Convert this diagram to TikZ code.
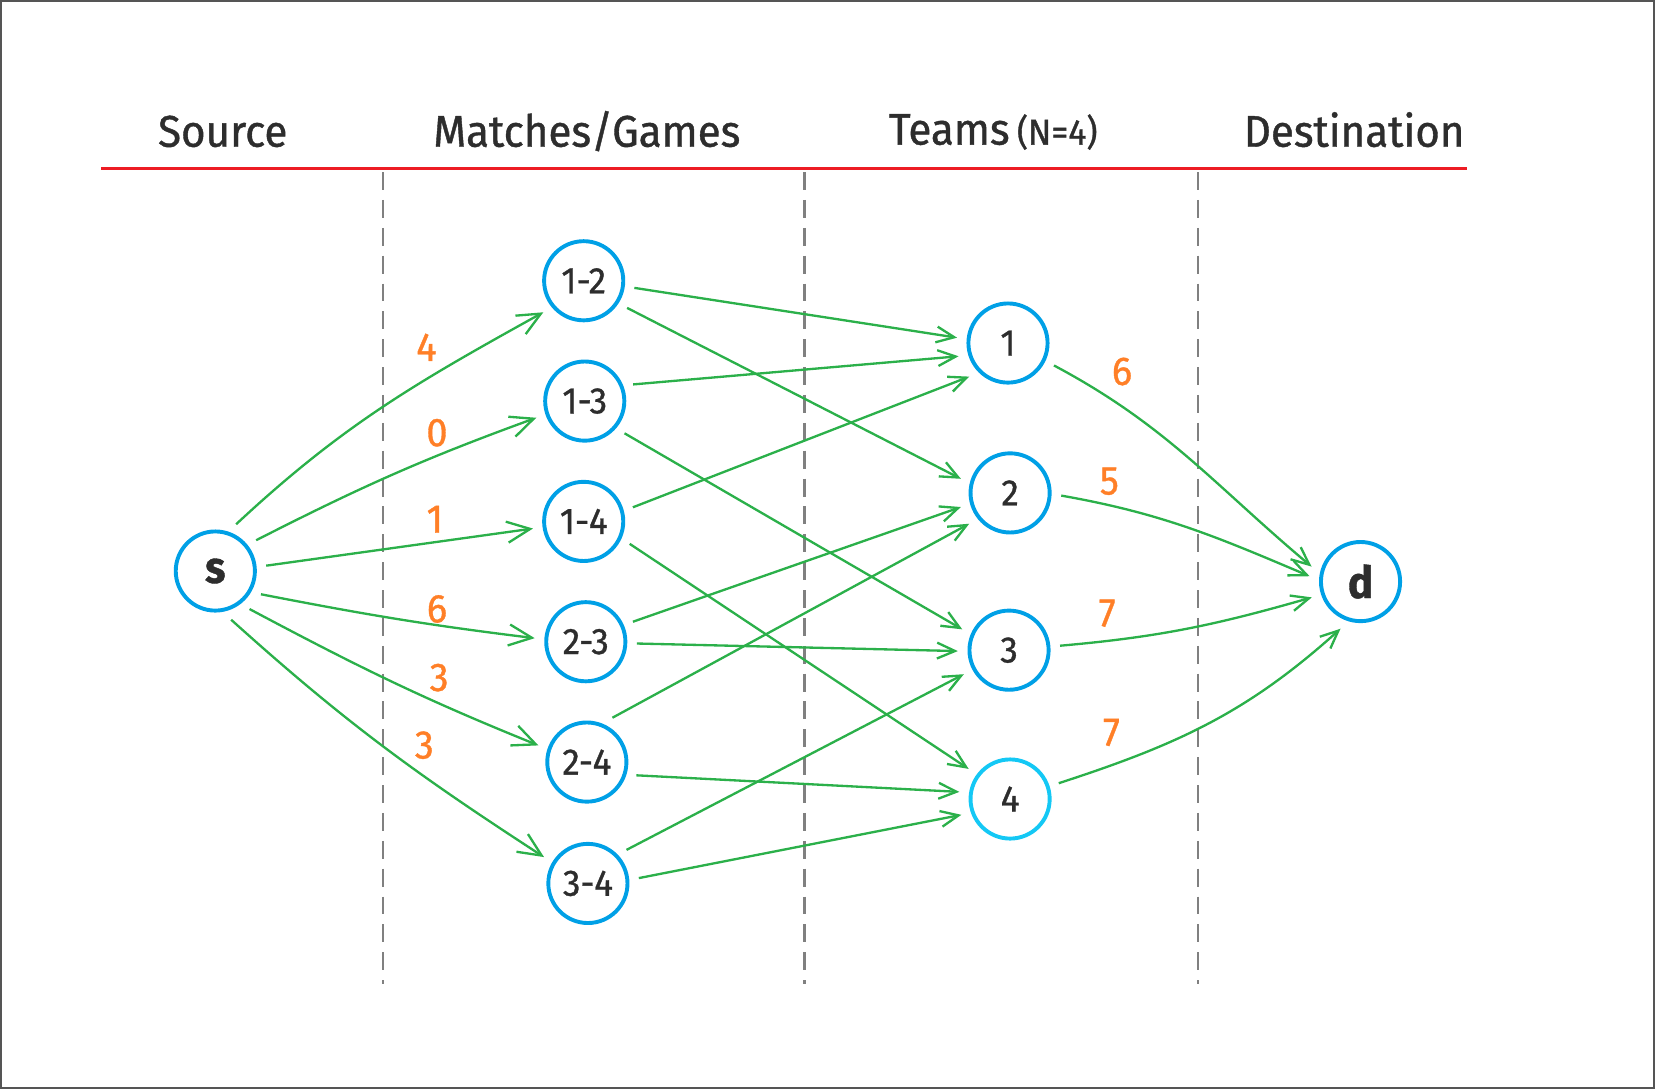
\documentclass[tikz,border=0pt]{standalone}
\usepackage{fontspec}
\setmainfont{Fira Sans}[FakeBold=0.9, FakeStretch=0.95]
\usetikzlibrary{arrows.meta}
\definecolor{nodeblue}{RGB}{0,160,230}
\definecolor{nodecyan}{RGB}{20,200,245}
\definecolor{edgegreen}{RGB}{43,176,74}
\definecolor{lblorange}{RGB}{255,127,39}
\definecolor{hdrred}{RGB}{237,28,36}
\definecolor{txt}{RGB}{45,45,45}
\definecolor{dashgray}{RGB}{128,128,128}
\definecolor{framegray}{RGB}{85,85,85}
\begin{document}
\begin{tikzpicture}[x=0.5pt,y=0.5pt,
  vtx/.style={circle, draw=nodeblue, line width=1.85pt, minimum size=37.5pt,
    inner sep=0pt, outer sep=5.5pt, text=txt, font=\fontsize{17.5}{20}\selectfont},
  endvtx/.style={vtx, font=\fontsize{21}{24}\selectfont\bfseries},
  hdr/.style={text=txt, font=\fontsize{21}{24}\selectfont, inner sep=0pt},
  lbl/.style={text=lblorange, font=\fontsize{19}{22}\selectfont, inner sep=0pt},
  divider/.style={draw=dashgray, line width=1.2pt, dash pattern=on 8.5pt off 4.7pt},
  edgeA/.style={draw=edgegreen, line width=1.1pt, -{Straight Barb[length=11pt,width=10pt]}},
  edgeB/.style={draw=edgegreen, line width=1.1pt, -{Straight Barb[length=8.5pt,width=7.5pt]}}
]
\useasboundingbox (0,0) rectangle (1568,-1032);
\draw[framegray, line width=1pt] (1,-1) rectangle (1567,-1031);

% headers
\node[hdr, anchor=base] (hsrc) at (211,-139) {Source};
\node[hdr, anchor=base] (hmatch) at (556,-139) {Matches/Games};
\node[hdr, anchor=base] (hteam) at (941,-137) {Teams\,{\fontsize{17}{20}\selectfont(N=4)}};
\node[hdr, anchor=base] (hdest) at (1283,-139) {Destination};
\coordinate (rl) at (96,-160);
\coordinate (rr) at (1390,-160);
\draw[hdrred, line width=1.5pt] (rl) -- (rr);

% dividers
\coordinate (d1t) at (363,-163); \coordinate (d1b) at (363,-932);
\coordinate (d2t) at (762,-163); \coordinate (d2b) at (762,-932);
\coordinate (d3t) at (1135,-163); \coordinate (d3b) at (1135,-932);
\draw[divider] (d1t) -- (d1b);
\draw[divider] (d2t) -- (d2b);
\draw[divider] (d3t) -- (d3b);

% nodes
\node[endvtx] (s) at (204,-541) {s};
\node[vtx] (m12) at (553,-266) {1-2};
\node[vtx] (m13) at (554,-380) {1-3};
\node[vtx] (m14) at (553,-494) {1-4};
\node[vtx] (m23) at (555,-608) {2-3};
\node[vtx] (m24) at (556,-722) {2-4};
\node[vtx] (m34) at (557,-837) {3-4};
\node[vtx] (t1) at (955,-325) {1};
\node[vtx] (t2) at (957,-467) {2};
\node[vtx] (t3) at (956,-616) {3};
\node[vtx, draw=nodecyan] (t4) at (957,-757) {4};
\node[endvtx] (d) at (1289,-551) {d};

% source edges
\draw[edgeA] (s.66) to[out=43,in=209] (m12.218);
\draw[edgeA] (s.37) to[out=27,in=200] (m13.199);
\draw[edgeA] (s.6) -- (m14.188);
\draw[edgeA] (s.-27) to[out=-11,in=173] (m23.176);
\draw[edgeA] (s.-48) to[out=-28,in=158] (m24.161);
\draw[edgeA] (s.-72) to[out=-42,in=147] (m34.149);

% match -> team edges
\draw[edgeB] (m12.-8.5) -- (t1.174.5);
\draw[edgeB] (m12.-32.5) -- (t2.164);
\draw[edgeB] (m13.19) -- (t1.195);
\draw[edgeB] (m13.-39.5) -- (t3.156.5);
\draw[edgeB] (m14.16) -- (t1.221);
\draw[edgeB] (m14.-26.6) -- (t4.144);
\draw[edgeB] (m23.23) -- (t2.196.5);
\draw[edgeB] (m23.-2.4) -- (t3.181);
\draw[edgeB] (m24.60) -- (t2.217);
\draw[edgeB] (m24.-15) -- (t4.172.6);
\draw[edgeB] (m34.41) -- (t3.208);
\draw[edgeB] (m34.6) -- (t4.198);

% team -> destination edges
\draw[edgeB] (t1.-26) to[out=-28,in=140] (d.163);
\draw[edgeB] (t2.-3) to[out=-10,in=157] (d.174);
\draw[edgeB] (t3.5) to[out=5,in=196] (d.198);
\draw[edgeB] (t4.18) to[out=18,in=222] (d.247);

% capacity labels
\node[lbl] (c12) at (404,-329) {4};
\node[lbl] (c13) at (414,-410) {0};
\node[lbl] (c14) at (412,-492) {1};
\node[lbl] (c23) at (414,-577) {6};
\node[lbl] (c24) at (416,-642) {3};
\node[lbl] (c34) at (402,-706) {3};
\node[lbl] (ct1) at (1063,-352) {6};
\node[lbl] (ct2) at (1051,-456) {5};
\node[lbl] (ct3) at (1049,-581) {7};
\node[lbl] (ct4) at (1053,-694) {7};
\end{tikzpicture}
\end{document}
